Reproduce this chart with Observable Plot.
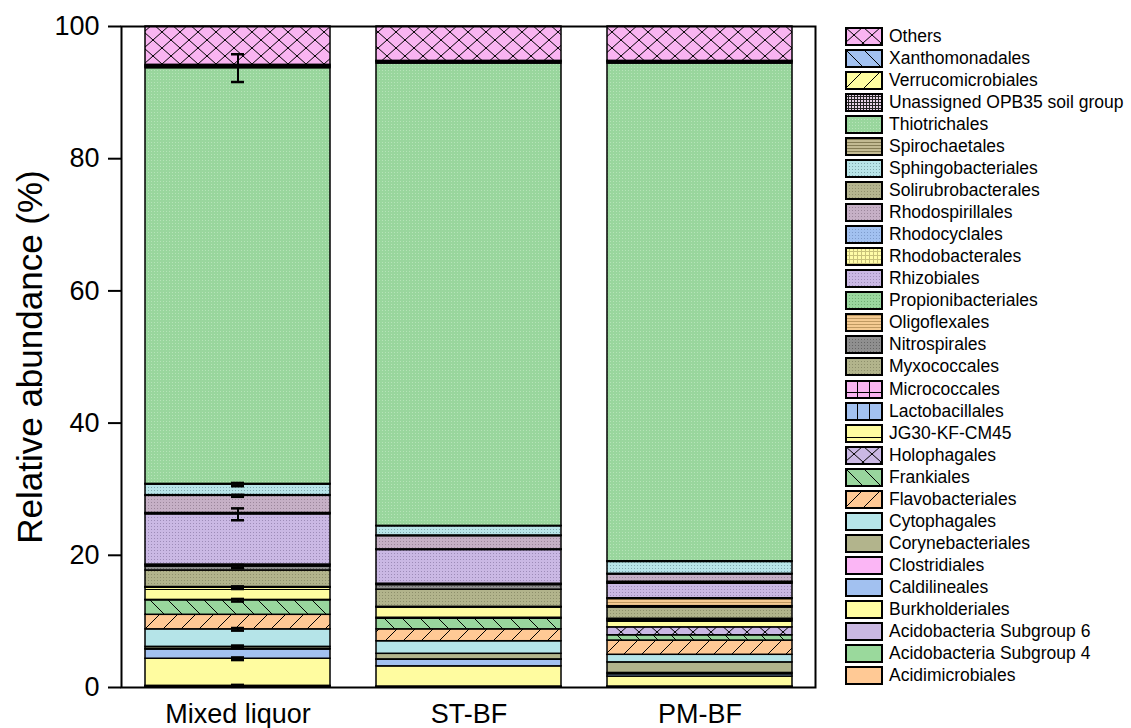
<!DOCTYPE html>
<html><head><meta charset="utf-8">
<script src="https://cdn.jsdelivr.net/npm/d3@7"></script>
<script src="https://cdn.jsdelivr.net/npm/@observablehq/plot@0.6"></script>
<style>
body{margin:0;background:#fff;font-family:"Liberation Sans",Arial,sans-serif;}
#wrap{position:relative;width:1131px;height:728px;}
#legend{position:absolute;left:845px;top:25px;}
.row{display:flex;align-items:center;height:22.07px;font-size:17.5px;color:#000;white-space:nowrap;}
.row svg{margin-right:6px;flex:none;}
</style></head><body>
<div id="defsHost" style="position:absolute;width:0;height:0;overflow:hidden"></div>
<div id="wrap"><div id="chart"></div><div id="legend"></div></div>
<script>
// ---- data (stack order: bottom -> top) ----
const samples = ["Mixed liquor", "ST-BF", "PM-BF"];
const taxa = [
  "Acidimicrobiales", "Acidobacteria Subgroup 4", "Acidobacteria Subgroup 6", "Burkholderiales",
  "Caldilineales", "Clostridiales", "Corynebacteriales", "Cytophagales", "Flavobacteriales",
  "Frankiales", "Holophagales", "JG30-KF-CM45", "Lactobacillales", "Micrococcales",
  "Myxococcales", "Nitrospirales", "Oligoflexales", "Propionibacteriales", "Rhizobiales",
  "Rhodobacterales", "Rhodocyclales", "Rhodospirillales", "Solirubrobacterales",
  "Sphingobacteriales", "Spirochaetales", "Thiotrichales", "Unassigned OPB35 soil group",
  "Verrucomicrobiales", "Xanthomonadales", "Others"
];
const mixedLiquor = [0.1, 0.05, 0.1, 4.1, 1.4, 0.1, 0.3, 2.65, 2.2, 2.2, 0.05, 1.85, 0.05, 0.05,
  2.5, 0.6, 0.2, 0.1, 7.6, 0.1, 0.1, 2.6, 0.1, 1.6, 0.1, 62.9, 0.2, 0.1, 0.2, 5.8];
const stBF = [0.05, 0.05, 0.05, 3.05, 1.0, 0.05, 0.85, 1.9, 1.8, 1.6, 0.15, 1.55, 0.05, 0.05,
  2.6, 0.7, 0.1, 0.1, 5.1, 0.05, 0.05, 2.0, 0.1, 1.4, 0.05, 69.95, 0.2, 0.1, 0.1, 5.2];
const pmBF = [0.05, 0.05, 0.05, 1.5, 0.35, 0.2, 1.6, 1.15, 2.15, 0.8, 1.2, 0.9, 0.2, 0.2,
  1.7, 0.2, 1.1, 0.1, 2.2, 0.15, 0.15, 1.1, 0.1, 1.8, 0.1, 75.3, 0.2, 0.1, 0.1, 5.2];
const mixedLiquorSD = [0, 0, 0.15, 0.2, 0, 0, 0.2, 0.2, 0, 0.2, 0, 0.2, 0, 0,
  0, 0.25, 0, 0, 0.9, 0, 0, 0.15, 0, 0.25, 0, 2.1, 0, 0, 0, 0];
const yTicks = [0, 20, 40, 60, 80, 100];
const yLabel = "Relative abundance (%)";

// ---- styles ----
const styles = {
  "Others": {bg: "#f9b4f1", kind: "cross"},
  "Xanthomonadales": {bg: "#a2c1f0", kind: "back"},
  "Verrucomicrobiales": {bg: "#fffda0", kind: "slash"},
  "Unassigned OPB35 soil group": {bg: "#e6d2e6", kind: "mesh"},
  "Thiotrichales": {bg: "#99d69d", kind: "dots", ink: "#b6e4b8"},
  "Spirochaetales": {bg: "#c2ba92", kind: "hfine", ink: "#857d55"},
  "Sphingobacteriales": {bg: "#b8e4e8", kind: "dots", ink: "#7fa8ad"},
  "Solirubrobacterales": {bg: "#b4b48e", kind: "dots", ink: "#8f8f6c"},
  "Rhodospirillales": {bg: "#c6b0c6", kind: "dots", ink: "#9c879c"},
  "Rhodocyclales": {bg: "#a2c1f0", kind: "dots", ink: "#7f9ccc"},
  "Rhodobacterales": {bg: "#fffca8", kind: "gridfine", ink: "#c9c27a"},
  "Rhizobiales": {bg: "#cab8e4", kind: "dots", ink: "#9d8cb8"},
  "Propionibacteriales": {bg: "#9ad79e", kind: "dots", ink: "#6fae73"},
  "Oligoflexales": {bg: "#f5cb92", kind: "hfine", ink: "#c09a62"},
  "Nitrospirales": {bg: "#8f8f8f", kind: "dots", ink: "#666666"},
  "Myxococcales": {bg: "#b2b48c", kind: "dots", ink: "#8e906c"},
  "Micrococcales": {bg: "#f9b4f1", kind: "bricks"},
  "Lactobacillales": {bg: "#a2c1f0", kind: "vlines"},
  "JG30-KF-CM45": {bg: "#fffda0", kind: "hline"},
  "Holophagales": {bg: "#cab8e4", kind: "cross"},
  "Frankiales": {bg: "#99d69d", kind: "back"},
  "Flavobacteriales": {bg: "#ffc995", kind: "slash"},
  "Cytophagales": {bg: "#b5e4e8"},
  "Corynebacteriales": {bg: "#b2b48c"},
  "Clostridiales": {bg: "#fbb6f5"},
  "Caldilineales": {bg: "#a2c1f0"},
  "Burkholderiales": {bg: "#fffca0"},
  "Acidobacteria Subgroup 6": {bg: "#cab8e2"},
  "Acidobacteria Subgroup 4": {bg: "#9ad99c"},
  "Acidimicrobiales": {bg: "#ffc995"}
};

function patternDef(id, s) {
  const bg = s.bg, ink = s.ink || "#000";
  let w = 18, h = 18, body = "";
  switch (s.kind) {
    case "cross": w = 18; h = 16; body = `<path d="M0,0L18,16M18,0L0,16" stroke="#000" stroke-width="1"/>`; break;
    case "back": body = `<path d="M0,0L18,18M-1,17L1,19M17,-1L19,1" stroke="#000" stroke-width="1"/>`; break;
    case "slash": body = `<path d="M0,18L18,0M-1,1L1,-1M17,19L19,17" stroke="#000" stroke-width="1"/>`; break;
    case "mesh": w = 3; h = 3; body = `<path d="M0,0.5H3M0.5,0V3" stroke="#222" stroke-width="1"/>`; break;
    case "dots": w = 3; h = 3; body = `<rect x="1" y="1" width="1" height="1" fill="${ink}"/>`; break;
    case "hfine": w = 4; h = 3; body = `<rect x="0" y="2" width="4" height="1" fill="${ink}"/>`; break;
    case "gridfine": w = 4; h = 4; body = `<path d="M0,0.5H4M0.5,0V4" stroke="${ink}" stroke-width="1"/>`; break;
    case "bricks": w = 12; h = 16; body = `<path d="M0.5,0V16M0,12.5H12" stroke="#000" stroke-width="1"/>`; break;
    case "vlines": w = 12; h = 16; body = `<path d="M0.5,0V16" stroke="#000" stroke-width="1"/>`; break;
    case "hline": w = 16; h = 16; body = `<path d="M0,13.5H16" stroke="#000" stroke-width="1"/>`; break;
  }
  return `<pattern id="${id}" patternUnits="userSpaceOnUse" width="${w}" height="${h}"><rect width="${w}" height="${h}" fill="${bg}"/>${body}</pattern>`;
}
const fillOf = {};
let defs = "";
taxa.forEach((t, i) => {
  const s = styles[t];
  if (s.kind) { defs += patternDef("pat" + i, s); fillOf[t] = `url(#pat${i})`; }
  else fillOf[t] = s.bg;
});
document.getElementById("defsHost").innerHTML = `<svg width="0" height="0"><defs>${defs}</defs></svg>`;

// ---- long table ----
const series = [mixedLiquor, stBF, pmBF];
const data = [];
samples.forEach((s, si) => taxa.forEach((t, i) => data.push({sample: s, taxon: t, value: series[si][i]})));

// error bars for Mixed liquor at top of each stacked segment
const err = [];
let cum = 0;
taxa.forEach((t, i) => {
  cum += mixedLiquor[i];
  if (mixedLiquorSD[i] > 0) err.push({sample: samples[0], y: cum, sd: mixedLiquorSD[i]});
});

const chart = Plot.plot({
  width: 835, height: 728,
  marginTop: 26, marginBottom: 41, marginLeft: 121, marginRight: 20,
  style: {fontFamily: "'Liberation Sans', Arial, sans-serif", background: "white", color: "black", overflow: "visible"},
  x: {domain: samples, paddingInner: 0.2, paddingOuter: 0.1},
  y: {domain: [0, 100]},
  marks: [
    Plot.barY(data, {x: "sample", y: "value", z: "taxon", fill: d => fillOf[d.taxon], stroke: "black", strokeWidth: 1.5}),
    Plot.ruleX(err, {x: "sample", y1: d => d.y - d.sd, y2: d => d.y + d.sd, stroke: "black", strokeWidth: 2}),
    Plot.tickY(err, {x: "sample", y: d => d.y - d.sd, insetLeft: 86, insetRight: 86, stroke: "black", strokeWidth: 2.5}),
    Plot.tickY(err, {x: "sample", y: d => d.y + d.sd, insetLeft: 86, insetRight: 86, stroke: "black", strokeWidth: 2.5}),
    Plot.frame({stroke: "black", strokeWidth: 2}),
    Plot.axisY({ticks: yTicks, tickSize: 13, tickPadding: 9, fontSize: 27, label: null, strokeWidth: 2}),
    Plot.axisX({tickSize: 0, tickPadding: 16, fontSize: 27, label: null}),
    Plot.text([yLabel], {text: d => d, frameAnchor: "left", textAnchor: "middle", dx: -91, rotate: -90, fontSize: 35})
  ]
});
document.getElementById("chart").appendChild(chart);

// ---- legend (top -> bottom = reverse stack order) ----
const legend = document.getElementById("legend");
taxa.slice().reverse().forEach(t => {
  const row = document.createElement("div");
  row.className = "row";
  row.innerHTML = `<svg width="38" height="19"><rect x="1" y="1" width="36" height="17" fill="${fillOf[t]}" stroke="#000" stroke-width="2"/></svg><span>${t}</span>`;
  legend.appendChild(row);
});
</script>
</body></html>
